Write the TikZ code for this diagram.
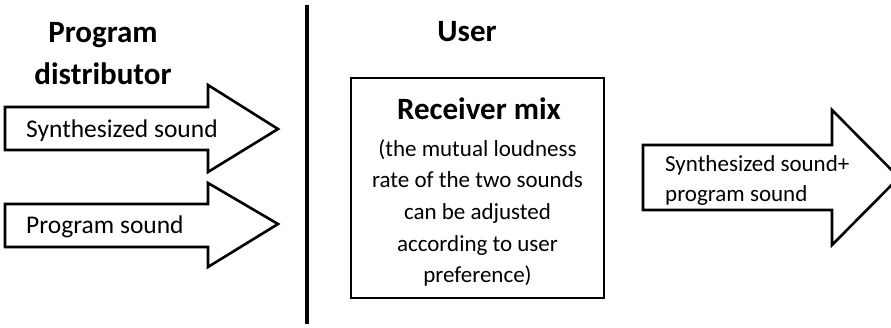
\documentclass[tikz,border=0pt]{standalone}
\usepackage{fontspec}
\setmainfont{Carlito}
\tikzset{
  outline/.style={draw=black, line width=2.6pt, line join=miter, fill=white},
  heading/.style={font=\bfseries\fontsize{31}{37}\selectfont, inner sep=0pt},
  label/.style={font=\fontsize{25.5}{30}\selectfont, inner sep=0pt, anchor=base west},
}
\begin{document}
\begin{tikzpicture}[x=1pt, y=-1pt]
  \useasboundingbox (0,0) rectangle (891,327);

  % left side: program distributor
  \node[heading, anchor=base] (distTitle) at (103,42) {Program};
  \node[heading, anchor=base] (distTitle2) at (103,84) {distributor};

  % block arrow carrying the synthesized sound
  \draw[outline] (5,107) -- (208,107) -- (208,85) -- (278,129)
                 -- (208,172) -- (208,150) -- (5,150) -- cycle;
  \node[label] (synth) at (26,137) {Synthesized sound};

  % block arrow carrying the program sound
  \draw[outline] (5,204) -- (208,204) -- (208,183) -- (278,224)
                 -- (208,267) -- (208,247) -- (5,247) -- cycle;
  \node[label] (prog) at (26,233) {Program sound};

  % separator between the two parties
  \coordinate (sepTop) at (307,5);
  \coordinate (sepBot) at (307,324);
  \draw[line width=4pt] (sepTop) -- (sepBot);

  % right side: user
  \node[heading, anchor=base] (user) at (467,41) {User};

  \node[draw=black, line width=2.4pt, minimum width=253pt, minimum height=220pt,
        inner sep=0pt] (mixBox) at (477.5,188) {};
  \node[heading, anchor=base] (mixTitle) at (479,119) {Receiver mix};
  \node[font=\fontsize{23}{31.7}\selectfont, align=center, inner sep=0pt,
        anchor=north] (mixText) at (477.5,139)
        {(the mutual loudness\\rate of the two sounds\\can be adjusted\\according to user\\preference)};

  % block arrow carrying the mixed output
  \draw[outline] (643,145) -- (832,145) -- (832,110) -- (899,177.5)
                 -- (832,245) -- (832,210) -- (643,210) -- cycle;
  \node[font=\fontsize{23}{30}\selectfont, align=left, inner sep=0pt,
        anchor=north west] (mixOut) at (665,155)
        {Synthesized sound+\\program sound};
\end{tikzpicture}
\end{document}
